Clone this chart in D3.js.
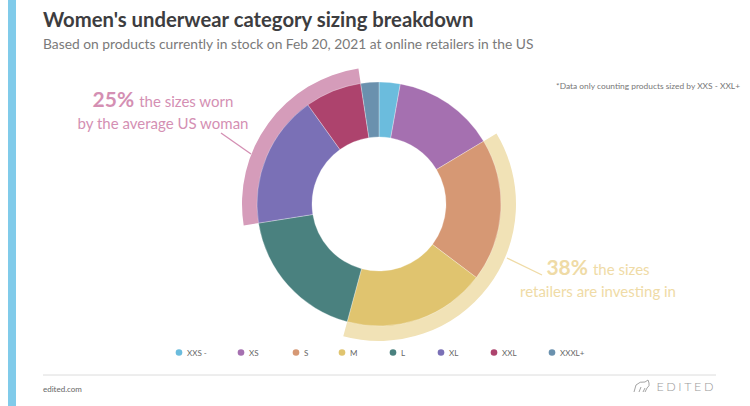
<!DOCTYPE html>
<html>
<head>
<meta charset="utf-8">
<script src="https://cdn.jsdelivr.net/npm/d3@7"></script>
<style>
  html, body { margin: 0; padding: 0; background: #fff; }
  svg { display: block; }
  text { font-family: Lato, "Open Sans", sans-serif; }
</style>
</head>
<body>
<svg id="chart" width="750" height="406"></svg>
<script>
// ---- data ----
const categories = ["XXS -", "XS", "S", "M", "L", "XL", "XXL", "XXXL+"];
const shares = [2.8, 13.6, 18.9, 18.9, 18.3, 17.6, 7.5, 2.4];
const colors = ["#6bbcdd", "#a570b0", "#d69874", "#e0c46f", "#4a817f", "#7a70b6", "#ad436d", "#6a91ae"];
const highlightWorn = ["XL", "XXL"];        // 25%
const highlightInvest = ["S", "M"];         // 38%

const title = "Women's underwear category sizing breakdown";
const subtitle = "Based on products currently in stock on Feb 20, 2021 at online retailers in the US";
const note = "*Data only counting products sized by XXS - XXL+";

const svg = d3.select("#chart");
const W = 750, H = 406;

// left accent bar
svg.append("rect").attr("x", 8).attr("y", 0).attr("width", 8).attr("height", H).attr("fill", "#80cbea");

// title + subtitle
svg.append("text").attr("x", 43).attr("y", 27).attr("font-size", 20.3).attr("font-weight", 700)
  .attr("fill", "#3d3d40").text(title);
svg.append("text").attr("x", 43).attr("y", 49).attr("font-size", 13.8)
  .attr("fill", "#7a7a7a").text(subtitle);
svg.append("text").attr("x", 740).attr("y", 89).attr("font-size", 8.4).attr("text-anchor", "end")
  .attr("fill", "#777").text(note);

// donut
const cx = 379, cy = 204, rIn = 67, rOut = 122;
const pie = d3.pie().sort(null).value(d => d.v);
const data = categories.map((c, i) => ({ c, v: shares[i], color: colors[i] }));
const arcs = pie(data);
const g = svg.append("g").attr("transform", `translate(${cx},${cy})`);

function band(names) {
  const sel = arcs.filter(a => names.includes(a.data.c));
  return { startAngle: d3.min(sel, a => a.startAngle), endAngle: d3.max(sel, a => a.endAngle) };
}
const bandArc = d3.arc().innerRadius(110).outerRadius(137);
g.append("path").attr("d", bandArc(band(highlightWorn))).attr("fill", "#d59cba");
g.append("path").attr("d", bandArc(band(highlightInvest))).attr("fill", "#f1e2b6");

const arc = d3.arc().innerRadius(rIn).outerRadius(rOut);
g.selectAll("path.slice").data(arcs).join("path").attr("class", "slice")
  .attr("d", arc).attr("fill", d => d.data.color)
  .attr("stroke", "#fff").attr("stroke-width", 0.3);

// annotations
const pink = "#d48fb3", yellow = "#efdba6";
svg.append("line").attr("x1", 221).attr("y1", 133).attr("x2", 251).attr("y2", 154)
  .attr("stroke", pink).attr("stroke-width", 1.3);
svg.append("line").attr("x1", 507).attr("y1", 258).attr("x2", 542).attr("y2", 275)
  .attr("stroke", yellow).attr("stroke-width", 1.3);

const t1 = svg.append("text").attr("x", 163).attr("y", 107).attr("text-anchor", "middle").attr("fill", pink);
t1.append("tspan").attr("font-size", 21).attr("font-weight", 700).text("25%");
t1.append("tspan").attr("font-size", 15).attr("dx", 5).text("the sizes worn");
svg.append("text").attr("x", 163).attr("y", 129).attr("text-anchor", "middle").attr("fill", pink)
  .attr("font-size", 15).text("by the average US woman");

const t2 = svg.append("text").attr("x", 598).attr("y", 275).attr("text-anchor", "middle").attr("fill", yellow);
t2.append("tspan").attr("font-size", 21).attr("font-weight", 700).text("38%");
t2.append("tspan").attr("font-size", 15).attr("dx", 5).text("the sizes");
svg.append("text").attr("x", 598).attr("y", 297).attr("text-anchor", "middle").attr("fill", yellow)
  .attr("font-size", 15).text("retailers are investing in");

// legend
const legendX = [179, 241, 296, 342, 393, 441, 494, 552];
const lg = svg.append("g");
data.forEach((d, i) => {
  lg.append("circle").attr("cx", legendX[i]).attr("cy", 352.5).attr("r", 3.3).attr("fill", d.color);
  lg.append("text").attr("x", legendX[i] + 8).attr("y", 355.5).attr("font-size", 8)
    .attr("fill", "#666").text(d.c);
});

// footer
svg.append("line").attr("x1", 43).attr("x2", 716).attr("y1", 375).attr("y2", 375)
  .attr("stroke", "#dcdcdc").attr("stroke-width", 1);
svg.append("text").attr("x", 43).attr("y", 392).attr("font-size", 8).attr("fill", "#666").text("edited.com");
svg.append("text").attr("x", 716).attr("y", 391).attr("font-size", 12.5).attr("text-anchor", "end")
  .attr("letter-spacing", 2.6).attr("fill", "#9a9a9a").attr("font-weight", 300).text("EDITED");
// small bear-like logo outline
svg.append("path")
  .attr("d", "M634,392 L636,385 Q640,381 645,382 L648,380 L649,383 Q650,386 647,388 L645,392 M639,392 L641,387 M643,392 L645,388")
  .attr("fill", "none").attr("stroke", "#9a9a9a").attr("stroke-width", 0.9);
</script>
</body>
</html>
